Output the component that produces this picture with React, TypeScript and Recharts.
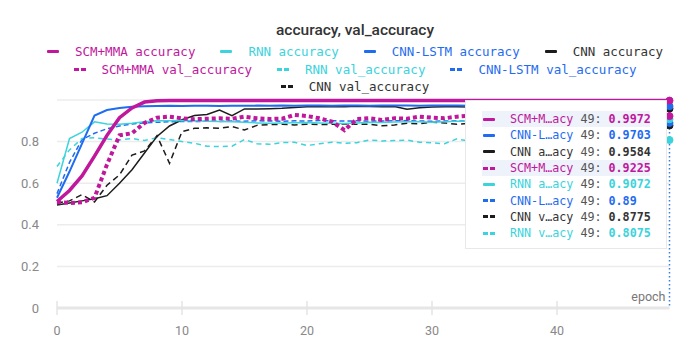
import React from 'react';
import { LineChart, Line, XAxis, YAxis, CartesianGrid, Tooltip, Legend } from 'recharts';

const epochs = [
  0, 1, 2, 3, 4, 5, 6, 7, 8, 9,
  10, 11, 12, 13, 14, 15, 16, 17, 18, 19,
  20, 21, 22, 23, 24, 25, 26, 27, 28, 29,
  30, 31, 32, 33, 34, 35, 36, 37, 38, 39,
  40, 41, 42, 43, 44, 45, 46, 47, 48, 49,
];

const scmAcc = [
  0.512, 0.565, 0.635, 0.73, 0.83, 0.915, 0.962, 0.99, 0.996, 0.997,
  0.997, 0.998, 0.997, 0.998, 0.998, 0.997, 0.998, 0.998, 0.997, 0.998,
  0.998, 0.998, 0.997, 0.998, 0.998, 0.998, 0.997, 0.998, 0.998, 0.998,
  0.998, 0.997, 0.998, 0.998, 0.997, 0.998, 0.998, 0.998, 0.997, 0.998,
  0.998, 0.998, 0.997, 0.998, 0.998, 0.997, 0.998, 0.998, 0.998, 0.9972,
];
const rnnAcc = [
  0.6, 0.815, 0.845, 0.895, 0.885, 0.884, 0.888, 0.895, 0.9, 0.9,
  0.902, 0.9, 0.898, 0.897, 0.895, 0.893, 0.89, 0.888, 0.889, 0.891,
  0.892, 0.89, 0.888, 0.887, 0.89, 0.893, 0.892, 0.894, 0.896, 0.895,
  0.893, 0.896, 0.898, 0.899, 0.9, 0.898, 0.901, 0.902, 0.9, 0.903,
  0.904, 0.902, 0.905, 0.904, 0.903, 0.906, 0.905, 0.907, 0.906, 0.9072,
];
const lstmAcc = [
  0.53, 0.656, 0.79, 0.925, 0.952, 0.962, 0.968, 0.97, 0.971, 0.972,
  0.971, 0.972, 0.972, 0.971, 0.972, 0.972, 0.973, 0.972, 0.973, 0.972,
  0.973, 0.973, 0.972, 0.973, 0.973, 0.972, 0.973, 0.974, 0.973, 0.972,
  0.973, 0.974, 0.973, 0.972, 0.973, 0.972, 0.971, 0.972, 0.973, 0.971,
  0.972, 0.971, 0.972, 0.971, 0.97, 0.971, 0.972, 0.97, 0.971, 0.9703,
];
const cnnAcc = [
  0.495, 0.505, 0.515, 0.525, 0.54, 0.6, 0.665, 0.745, 0.825, 0.875,
  0.905, 0.925, 0.93, 0.952, 0.925, 0.957, 0.957, 0.958, 0.96, 0.964,
  0.967, 0.968, 0.969, 0.968, 0.97, 0.969, 0.968, 0.969, 0.956, 0.963,
  0.966, 0.967, 0.968, 0.966, 0.965, 0.963, 0.964, 0.962, 0.963, 0.961,
  0.962, 0.96, 0.961, 0.959, 0.96, 0.958, 0.96, 0.959, 0.958, 0.9584,
];
const scmVal = [
  0.509, 0.505, 0.508, 0.53, 0.69, 0.83, 0.84, 0.89, 0.915, 0.92,
  0.912, 0.908, 0.91, 0.912, 0.91, 0.92, 0.912, 0.909, 0.91, 0.928,
  0.923, 0.912, 0.896, 0.855, 0.909, 0.912, 0.904, 0.912, 0.91, 0.92,
  0.915, 0.912, 0.92, 0.925, 0.918, 0.921, 0.915, 0.919, 0.923, 0.917,
  0.92, 0.924, 0.918, 0.921, 0.919, 0.923, 0.92, 0.924, 0.921, 0.9225,
];
const rnnVal = [
  0.68, 0.76, 0.815, 0.818, 0.812, 0.808, 0.815, 0.805, 0.819, 0.81,
  0.8, 0.792, 0.778, 0.776, 0.778, 0.81, 0.79, 0.787, 0.795, 0.797,
  0.781, 0.79, 0.797, 0.792, 0.795, 0.808, 0.803, 0.805, 0.807, 0.797,
  0.794, 0.79, 0.813, 0.802, 0.806, 0.799, 0.804, 0.81, 0.801, 0.797,
  0.805, 0.808, 0.8, 0.803, 0.798, 0.806, 0.802, 0.809, 0.804, 0.8075,
];
const lstmVal = [
  0.55, 0.7, 0.81, 0.84, 0.862, 0.875, 0.885, 0.89, 0.893, 0.895,
  0.897, 0.896, 0.898, 0.897, 0.899, 0.898, 0.9, 0.899, 0.898, 0.9,
  0.899, 0.901, 0.9, 0.899, 0.9, 0.898, 0.899, 0.9, 0.901, 0.899,
  0.898, 0.899, 0.9, 0.898, 0.897, 0.896, 0.895, 0.896, 0.894, 0.895,
  0.893, 0.894, 0.892, 0.893, 0.891, 0.892, 0.89, 0.891, 0.889, 0.89,
];
const cnnVal = [
  0.505, 0.515, 0.545, 0.51, 0.59, 0.64, 0.735, 0.755, 0.828, 0.696,
  0.848, 0.864, 0.866, 0.864, 0.872, 0.856, 0.878, 0.882, 0.883, 0.88,
  0.884, 0.882, 0.883, 0.885, 0.883, 0.884, 0.876, 0.88, 0.888, 0.886,
  0.893, 0.89, 0.883, 0.888, 0.885, 0.882, 0.886, 0.884, 0.881, 0.885,
  0.883, 0.88, 0.884, 0.879, 0.882, 0.878, 0.881, 0.879, 0.876, 0.8775,
];

const yTicks = [0, 0.2, 0.4, 0.6, 0.8];
const xTicks = [0, 10, 20, 30, 40];

const MAGENTA = '#c0179c';
const CYAN = '#3bd3dc';
const BLUE = '#1f6cf0';
const BLACK = '#1c1c1c';

type Series = {
  key: string;
  name: string;
  values: number[];
  color: string;
  width: number;
  dash?: string;
  dashed: boolean;
  textColor: string;
};

const series: Series[] = [
  { key: 'cnnVal', name: 'CNN val_accuracy', values: cnnVal, color: BLACK, width: 1.5, dash: '6 4', dashed: true, textColor: '#333' },
  { key: 'lstmVal', name: 'CNN-LSTM val_accuracy', values: lstmVal, color: BLUE, width: 1.5, dash: '5 3', dashed: true, textColor: BLUE },
  { key: 'rnnVal', name: 'RNN val_accuracy', values: rnnVal, color: CYAN, width: 1.5, dash: '5 4', dashed: true, textColor: CYAN },
  { key: 'cnnAcc', name: 'CNN accuracy', values: cnnAcc, color: BLACK, width: 1.5, dashed: false, textColor: '#333' },
  { key: 'rnnAcc', name: 'RNN accuracy', values: rnnAcc, color: CYAN, width: 1.5, dashed: false, textColor: CYAN },
  { key: 'lstmAcc', name: 'CNN-LSTM accuracy', values: lstmAcc, color: BLUE, width: 2, dashed: false, textColor: BLUE },
  { key: 'scmVal', name: 'SCM+MMA val_accuracy', values: scmVal, color: MAGENTA, width: 4, dash: '4 3', dashed: true, textColor: MAGENTA },
  { key: 'scmAcc', name: 'SCM+MMA accuracy', values: scmAcc, color: MAGENTA, width: 3.5, dashed: false, textColor: MAGENTA },
];

const legendRows = [
  ['scmAcc', 'rnnAcc', 'lstmAcc', 'cnnAcc'],
  ['scmVal', 'rnnVal', 'lstmVal'],
  ['cnnVal'],
];

const data = epochs.map((epoch, i) => {
  const row: Record<string, number> = { epoch };
  series.forEach((s) => {
    row[s.key] = s.values[i];
  });
  return row;
});

const byKey = (key: string) => series.find((s) => s.key === key) as Series;

const MONO = '"DejaVu Sans Mono", "Liberation Mono", monospace';
const SANS = 'Roboto, "Open Sans", sans-serif';

const Marker = ({ color, dashed }: { color: string; dashed: boolean }) =>
  dashed ? (
    <span style={{ display: 'inline-flex', width: 12, justifyContent: 'space-between' }}>
      <span style={{ width: 5, height: 3, background: color }} />
      <span style={{ width: 5, height: 3, background: color }} />
    </span>
  ) : (
    <span style={{ display: 'inline-block', width: 12, height: 3, background: color, borderRadius: 1 }} />
  );

const Header = () => (
  <div style={{ width: 682, height: 92, boxSizing: 'border-box', paddingLeft: 12, paddingTop: 12 }}>
    <div
      style={{
        textAlign: 'center',
        fontFamily: SANS,
        fontWeight: 500,
        fontSize: 15.5,
        lineHeight: '20px',
        color: '#333',
        marginBottom: 3,
      }}
    >
      accuracy, val_accuracy
    </div>
    {legendRows.map((row, ri) => (
      <div key={ri} style={{ display: 'flex', justifyContent: 'center', height: 17.5, alignItems: 'center' }}>
        {row.map((k, i) => {
          const s = byKey(k);
          return (
            <span
              key={k}
              style={{ display: 'inline-flex', alignItems: 'center', marginLeft: i === 0 ? 0 : 25 }}
            >
              <Marker color={s.color} dashed={s.dashed} />
              <span
                style={{
                  marginLeft: 16,
                  fontFamily: MONO,
                  fontSize: 12.5,
                  color: s.textColor,
                  whiteSpace: 'pre',
                }}
              >
                {s.name}
              </span>
            </span>
          );
        })}
      </div>
    ))}
  </div>
);

const shortName = (name: string) => name.slice(0, 5) + '\u2026' + name.slice(-3);

const EpochTooltip = (props: any) => {
  const { payload, label } = props;
  if (!payload || !payload.length) return null;
  const rows = [...payload].sort((a: any, b: any) => b.value - a.value);
  return (
    <div
      style={{
        width: 202,
        height: 149,
        boxSizing: 'border-box',
        background: '#fff',
        border: '1px solid #e8e8e8',
        padding: '10px 0 0 16px',
      }}
    >
      {rows.map((p: any) => {
        const s = byKey(p.dataKey);
        const hl = s.key.startsWith('scm');
        return (
          <div
            key={s.key}
            style={{
              display: 'flex',
              alignItems: 'center',
              width: 168,
              height: 16.3,
              background: hl ? '#edf2fb' : 'transparent',
              fontFamily: MONO,
              fontSize: 11.7,
              whiteSpace: 'pre',
            }}
          >
            <span style={{ marginLeft: 1, marginRight: 15, display: 'inline-flex' }}>
              <Marker color={s.color} dashed={s.dashed} />
            </span>
            <span style={{ color: s.textColor }}>{shortName(s.name)}</span>
            <span style={{ color: '#555' }}>{` ${label}: `}</span>
            <span style={{ color: s.textColor, fontWeight: 'bold' }}>{String(p.value)}</span>
          </div>
        );
      })}
    </div>
  );
};

const EpochTick = (props: any) => {
  const { x, y, payload } = props;
  return (
    <g>
      <line x1={x} x2={x} y1={y - 7} y2={y + 7} stroke="#e4e4e4" strokeWidth={1.5} />
      <text x={x} y={y + 23} dy="0.35em" textAnchor="middle" fill="#888" fontSize={12.5} fontFamily={SANS}>
        {payload.value}
      </text>
    </g>
  );
};

const EpochLabel = (props: any) => {
  const vb = props.viewBox || { x: 0, y: 0, width: 0 };
  return (
    <text
      x={vb.x + vb.width - 4}
      y={vb.y - 11}
      dy="0.35em"
      textAnchor="end"
      fill="#777"
      fontSize={12.5}
      fontFamily={SANS}
    >
      epoch
    </text>
  );
};

const App: React.FC = () => {
  return (
    <div style={{ width: 682, height: 331, background: '#fff' }}>
      <LineChart width={682} height={331} data={data} margin={{ top: 0, right: 20.5, bottom: 1, left: 0 }}>
        <Legend verticalAlign="top" content={<Header />} wrapperStyle={{ left: 0, top: 0, width: 682 }} />
        <CartesianGrid horizontal vertical={false} stroke="#ececec" strokeWidth={1.5} />
        <XAxis
          dataKey="epoch"
          type="number"
          domain={[0, 49]}
          ticks={xTicks}
          height={30}
          tickSize={0}
          tickMargin={0}
          tickLine={false}
          axisLine={{ stroke: '#e6e6e6', strokeWidth: 3 }}
          tick={<EpochTick />}
          label={<EpochLabel />}
        />
        <YAxis
          type="number"
          domain={[0, 1]}
          ticks={yTicks}
          width={49}
          axisLine={false}
          tickLine={false}
          tickSize={0}
          tickMargin={18}
          tick={{ fill: '#888', fontSize: 13, fontFamily: SANS }}
        />
        <Tooltip
          active
          defaultIndex={49}
          isAnimationActive={false}
          position={{ x: 457, y: 92 }}
          cursor={{ stroke: '#3f7de0', strokeWidth: 1.5, strokeDasharray: '1.5 2.5' }}
          content={<EpochTooltip />}
          wrapperStyle={{ outline: 'none', zIndex: 5 }}
        />
        {series.map((s) => (
          <Line
            key={s.key}
            dataKey={s.key}
            name={s.name}
            type="linear"
            stroke={s.color}
            strokeWidth={s.width}
            strokeDasharray={s.dash}
            dot={false}
            activeDot={{ r: 3.5, fill: s.color, stroke: s.color, strokeWidth: 1 }}
            isAnimationActive={false}
          />
        ))}
      </LineChart>
    </div>
  );
};

export default App;
